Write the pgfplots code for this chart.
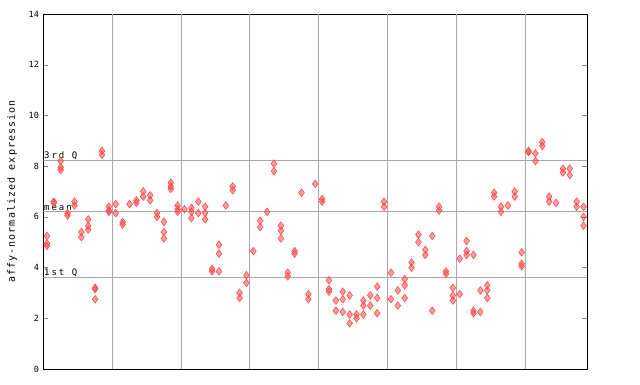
\documentclass[border=0pt]{standalone}
\usepackage{fontspec}
\setmainfont{DejaVu Sans Mono}
\setmonofont{DejaVu Sans Mono}
\usepackage{pgfplots}
\pgfplotsset{compat=1.18}
\definecolor{pt}{HTML}{FF4D4D}
\definecolor{gl}{HTML}{A8A8A8}
\begin{document}
\begin{tikzpicture}[x=1pt,y=1pt]
\path[use as bounding box] (-43.5,-15) rectangle (596.5,369);
\begin{axis}[
  at={(0,0)}, anchor=south west,
  scale only axis, width=543.5pt, height=355pt,
  xmin=0, xmax=79, ymin=0, ymax=14,
  xtick=\empty,
  ytick={0,2,...,14},
  tick align=inside,
  major tick length=5pt,
  ytick pos=both,
  yticklabel style={font=\fontsize{8.5}{9}\selectfont, xshift=-1pt},
  /pgf/number format/assume math mode=true,
  ylabel={\addfontfeatures{LetterSpace=11}affy-normalized expression},
  ylabel style={font=\fontsize{8}{9}\selectfont},
  every axis y label/.style={at={(axis description cs:-0.058,0.5)}, rotate=90, anchor=center},
  axis line style={black, line width=0.8pt},
  clip=true,
]
\foreach \g in {10,20,...,70} {
  \edef\tmp{\noexpand\addplot[gl, line width=0.8pt, forget plot] coordinates {(\g,0) (\g,14)};}
  \tmp
}
\addplot[gl, line width=0.8pt] coordinates {(0,8.23) (79,8.23)};
\addplot[gl, line width=0.8pt] coordinates {(0,6.23) (79,6.23)};
\addplot[gl, line width=0.8pt] coordinates {(0,3.63) (79,3.63)};
\node[anchor=south west, inner sep=0.5pt, font=\fontsize{9}{10}\selectfont] at (axis cs:0,8.23) {\addfontfeatures{LetterSpace=22}3rd Q};
\node[anchor=south west, inner sep=0.5pt, font=\fontsize{9}{10}\selectfont] at (axis cs:0,6.23) {\addfontfeatures{LetterSpace=22}mean};
\node[anchor=south west, inner sep=0.5pt, font=\fontsize{9}{10}\selectfont] at (axis cs:0,3.63) {\addfontfeatures{LetterSpace=22}1st Q};
\addplot[only marks, mark=diamond*, mark size=3.8pt,
  mark options={draw=pt, fill=pt, fill opacity=0.55, line width=0.6pt}]
coordinates {
(0.5,5.25)(0.5,4.95)(0.5,4.85)
(1.5,6.6)(1.5,6.55)
(2.5,8.2)(2.5,7.95)(2.5,7.85)
(3.5,6.15)(3.5,6.05)
(4.5,6.6)(4.5,6.45)
(5.5,5.4)(5.5,5.2)
(6.5,5.9)(6.5,5.65)(6.5,5.5)
(7.5,3.2)(7.5,3.15)(7.5,2.75)
(8.5,8.6)(8.5,8.45)
(9.5,6.4)(9.5,6.25)(9.5,6.2)
(10.5,6.5)(10.5,6.15)
(11.5,5.8)(11.5,5.7)
(12.5,6.5)
(13.5,6.65)(13.5,6.55)
(14.5,7.0)(14.5,6.8)
(15.5,6.85)(15.5,6.65)
(16.5,6.15)(16.5,6.0)
(17.5,5.8)(17.5,5.4)(17.5,5.15)
(18.5,7.35)(18.5,7.2)(18.5,7.1)
(19.5,6.45)(19.5,6.3)(19.5,6.2)
(20.5,6.3)
(21.5,6.35)(21.5,6.2)(21.5,5.95)
(22.5,6.6)(22.5,6.15)
(23.5,6.4)(23.5,6.15)(23.5,5.9)
(24.5,3.95)(24.5,3.85)
(25.5,4.9)(25.5,4.55)(25.5,3.85)
(26.5,6.45)
(27.5,7.2)(27.5,7.05)
(28.5,3.0)(28.5,2.8)
(29.5,3.7)(29.5,3.4)
(30.5,4.65)
(31.5,5.85)(31.5,5.6)
(32.5,6.2)
(33.5,8.1)(33.5,7.8)
(34.5,5.65)(34.5,5.45)(34.5,5.15)
(35.5,3.8)(35.5,3.65)
(36.5,4.65)(36.5,4.55)
(37.5,6.95)
(38.5,2.95)(38.5,2.75)
(39.5,7.3)
(40.5,6.7)(40.5,6.6)
(41.5,3.5)(41.5,3.15)(41.5,3.05)
(42.5,2.7)(42.5,2.3)
(43.5,3.05)(43.5,2.75)(43.5,2.25)
(44.5,2.9)(44.5,2.15)(44.5,1.8)
(45.5,2.15)(45.5,2.0)
(46.5,2.7)(46.5,2.5)(46.5,2.15)
(47.5,2.9)(47.5,2.5)
(48.5,3.25)(48.5,2.8)(48.5,2.2)
(49.5,6.6)(49.5,6.4)
(50.5,3.8)(50.5,2.75)
(51.5,3.1)(51.5,2.5)
(52.5,3.55)(52.5,3.3)(52.5,2.8)
(53.5,4.2)(53.5,4.0)
(54.5,5.3)(54.5,5.0)
(55.5,4.7)(55.5,4.5)
(56.5,5.25)(56.5,2.3)
(57.5,6.4)(57.5,6.25)
(58.5,3.85)(58.5,3.75)
(59.5,3.2)(59.5,2.9)(59.5,2.7)
(60.5,4.35)(60.5,2.95)
(61.5,5.05)(61.5,4.65)(61.5,4.5)
(62.5,4.5)(62.5,2.3)(62.5,2.2)
(63.5,3.1)(63.5,2.25)
(64.5,3.3)(64.5,3.1)(64.5,2.8)
(65.5,6.95)(65.5,6.8)
(66.5,6.4)(66.5,6.2)
(67.5,6.45)
(68.5,7.0)(68.5,6.8)
(69.5,4.6)(69.5,4.15)(69.5,4.05)
(70.5,8.6)(70.5,8.55)
(71.5,8.5)(71.5,8.2)
(72.5,8.95)(72.5,8.8)
(73.5,6.8)(73.5,6.6)
(74.5,6.55)
(75.5,7.9)(75.5,7.75)
(76.5,7.9)(76.5,7.65)
(77.5,6.6)(77.5,6.4)
(78.5,6.4)(78.5,6.0)(78.5,5.65)
};
\end{axis}
\end{tikzpicture}
\end{document}
